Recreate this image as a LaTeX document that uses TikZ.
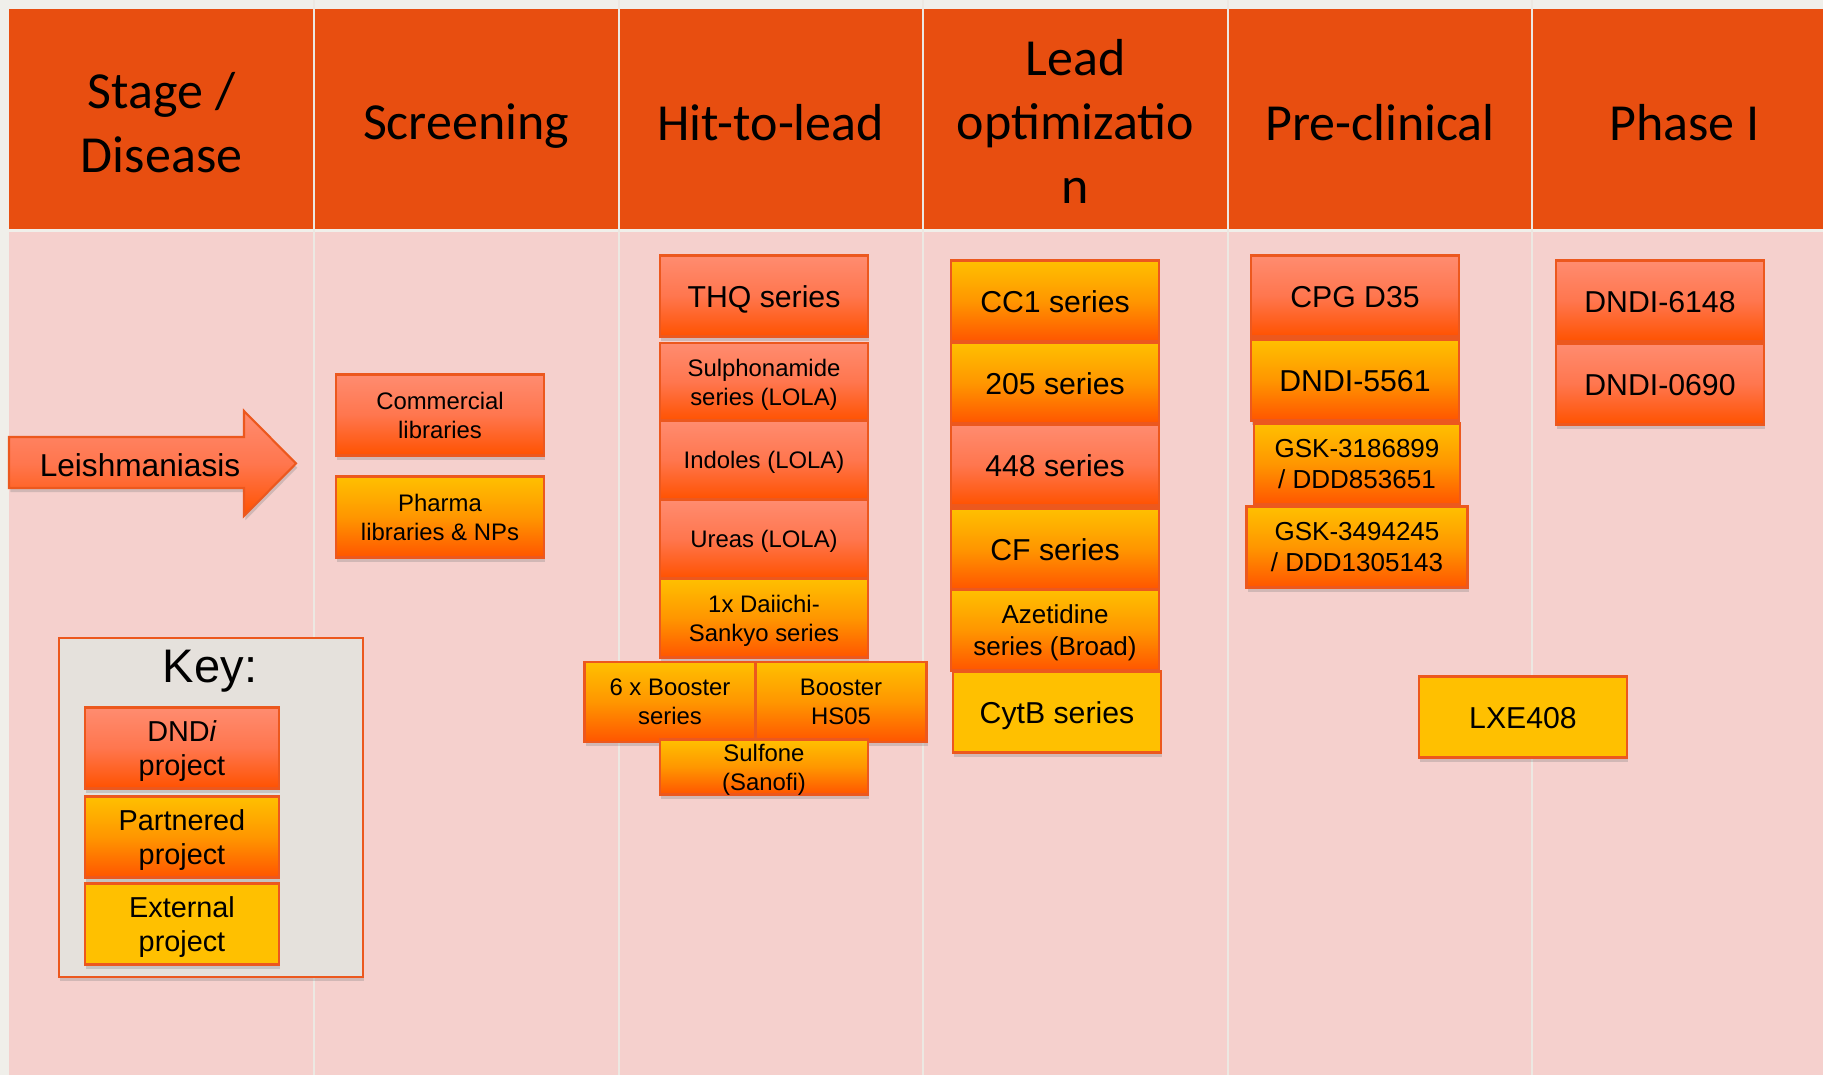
\documentclass[tikz,border=0pt]{standalone}
\usepackage{fontspec}
\setmainfont{Liberation Sans}
\newfontfamily\headfont{Carlito}
\usepackage{tikz}
\usetikzlibrary{positioning}
\usetikzlibrary{shadows}
\pgfdeclarelayer{bglayer}
\pgfdeclarelayer{nodelayer}
\pgfsetlayers{bglayer,nodelayer,main}
\definecolor{headorange}{RGB}{232,78,16}
\definecolor{bodypink}{RGB}{245,208,205}
\definecolor{pagegrey}{RGB}{240,239,234}
\definecolor{sepgrey}{RGB}{236,232,226}
\definecolor{dnditop}{RGB}{255,140,112}
\definecolor{dndimid}{RGB}{255,118,78}
\definecolor{dndibot}{RGB}{255,82,0}
\definecolor{parttop}{RGB}{255,192,0}
\definecolor{partmid}{RGB}{255,150,0}
\definecolor{partbot}{RGB}{255,85,0}
\definecolor{extfill}{RGB}{255,192,0}
\definecolor{boxline}{RGB}{236,88,30}
\definecolor{keygrey}{RGB}{229,225,220}
\tikzset{
    none/.style = {inner sep=0pt},
    softshadow/.style = {drop shadow={shadow xshift=0.4pt, shadow yshift=-1.2pt, opacity=0.3}},
    stagebox/.style = {draw=boxline, line width=0.6pt, inner sep=0pt, align=center,
        minimum width=2.08cm, minimum height=0.81cm, softshadow, text depth=0pt,
        execute at begin node={\rule{0pt}{0.75em}}},
    dndibox/.style = {stagebox, top color=dnditop, bottom color=dndibot, middle color=dndimid},
    partnerbox/.style = {stagebox, top color=parttop, bottom color=partbot, middle color=partmid},
    externbox/.style = {stagebox, fill=extfill},
    keybox/.style = {draw=boxline, line width=0.6pt, fill=keygrey, minimum width=3.04cm,
        minimum height=3.39cm, softshadow},
    headtxt/.style = {inner sep=0pt, align=center, font=\headfont\fontsize{14.8}{18.2}\selectfont},
    bigtxt/.style = {font=\fontsize{8.6}{10.3}\selectfont},
    midtxt/.style = {font=\fontsize{7.4}{8.9}\selectfont},
    smalltxt/.style = {font=\fontsize{6.8}{8.2}\selectfont},
    keytxt/.style = {font=\fontsize{8.2}{9.9}\selectfont}
}

\begin{document}
\begin{tikzpicture}
    \clip (0,0) rectangle (18.23,-10.75);
    \begin{pgfonlayer}{bglayer}
        \fill [pagegrey] (0,0) rectangle (18.23,-10.75);
        \fill [headorange] (0.093,-0.093) rectangle (18.23,-2.29);
        \fill [bodypink] (0.093,-2.32) rectangle (18.23,-10.75);
        % column rules
        \draw [sepgrey, line width=0.02cm] (3.139,0) -- (3.139,-10.75);
        \draw [sepgrey, line width=0.02cm] (6.185,0) -- (6.185,-10.75);
        \draw [sepgrey, line width=0.02cm] (9.231,0) -- (9.231,-10.75);
        \draw [sepgrey, line width=0.02cm] (12.277,0) -- (12.277,-10.75);
        \draw [sepgrey, line width=0.02cm] (15.323,0) -- (15.323,-10.75);
        \node [headtxt] (0) at (1.616,-1.225) {Stage /\\Disease};
        \node [headtxt] (1) at (4.662,-1.26) {Screening};
        \node [headtxt] (2) at (7.708,-1.225) {Hit-to-lead};
        \node [headtxt] (3) at (10.754,-1.213) {Lead\\optimizatio\\n};
        \node [headtxt] (4) at (13.800,-1.225) {Pre-clinical};
        \node [headtxt] (5) at (16.846,-1.225) {Phase I};
    \end{pgfonlayer}
    \begin{pgfonlayer}{nodelayer}
        % disease arrow
        \path [draw=boxline, line width=0.6pt, top color=dnditop, bottom color=dndibot, middle color=dndimid, softshadow]
            (0.09,-4.37) -- (2.44,-4.37) -- (2.44,-4.11) -- (2.96,-4.635) -- (2.44,-5.16) -- (2.44,-4.88) -- (0.09,-4.88) -- cycle;
        \node [none, font=\fontsize{9}{10.8}\selectfont] (34) at (1.40,-4.65) {Leishmaniasis};
        % screening
        \node [dndibox, smalltxt] (6) at (4.40,-4.15) {Commercial\\libraries};
        \node [partnerbox, smalltxt] (7) at (4.40,-5.17) {Pharma\\libraries \& NPs};
        % hit-to-lead
        \node [dndibox, bigtxt] (8) at (7.64,-2.96) {THQ series};
        \node [dndibox, smalltxt, minimum height=0.78cm] (9) at (7.64,-3.82) {Sulphonamide\\series (LOLA)};
        \node [dndibox, smalltxt, minimum height=0.79cm] (10) at (7.64,-4.60) {Indoles (LOLA)};
        \node [dndibox, smalltxt, minimum height=0.79cm] (11) at (7.64,-5.39) {Ureas (LOLA)};
        \node [partnerbox, smalltxt, minimum height=0.79cm] (12) at (7.64,-6.18) {1x Daiichi-\\Sankyo series};
        \node [partnerbox, smalltxt, minimum width=1.71cm, minimum height=0.80cm] (13) at (6.70,-7.02) {6 x Booster\\series};
        \node [partnerbox, smalltxt, minimum width=1.71cm, minimum height=0.80cm] (14) at (8.41,-7.02) {Booster\\HS05};
        \node [partnerbox, smalltxt, minimum height=0.55cm] (15) at (7.64,-7.67) {Sulfone\\(Sanofi)};
        % lead optimization
        \node [partnerbox, bigtxt] (16) at (10.55,-3.01) {CC1 series};
        \node [partnerbox, bigtxt] (17) at (10.55,-3.83) {205 series};
        \node [dndibox, bigtxt] (18) at (10.55,-4.65) {448 series};
        \node [partnerbox, bigtxt] (19) at (10.55,-5.49) {CF series};
        \node [partnerbox, midtxt] (20) at (10.55,-6.30) {Azetidine\\series (Broad)};
        \node [externbox, bigtxt] (21) at (10.57,-7.12) {CytB series};
        % pre-clinical
        \node [dndibox, bigtxt] (22) at (13.55,-2.96) {CPG D35};
        \node [partnerbox, bigtxt] (23) at (13.55,-3.80) {DNDI-5561};
        \node [partnerbox, midtxt, minimum width=2.06cm] (24) at (13.57,-4.64) {GSK-3186899\\/ DDD853651};
        \node [partnerbox, midtxt, minimum width=2.21cm] (25) at (13.57,-5.47) {GSK-3494245\\/ DDD1305143};
        \node [externbox, bigtxt] (26) at (15.23,-7.17) {LXE408};
        % phase I
        \node [dndibox, bigtxt] (27) at (16.60,-3.01) {DNDI-6148};
        \node [dndibox, bigtxt] (28) at (16.60,-3.84) {DNDI-0690};
        % key
        \node [keybox] (29) at (2.11,-8.075) {};
        \node [none, font=\fontsize{13.4}{16}\selectfont] (30) at (2.10,-6.71) {Key:};
        \node [dndibox, keytxt, minimum width=1.94cm] (31) at (1.82,-7.48) {DND\textit{i}\\project};
        \node [partnerbox, keytxt, minimum width=1.94cm] (32) at (1.82,-8.37) {Partnered\\project};
        \node [externbox, keytxt, minimum width=1.94cm] (33) at (1.82,-9.24) {External\\project};
    \end{pgfonlayer}
\end{tikzpicture}
\end{document}
